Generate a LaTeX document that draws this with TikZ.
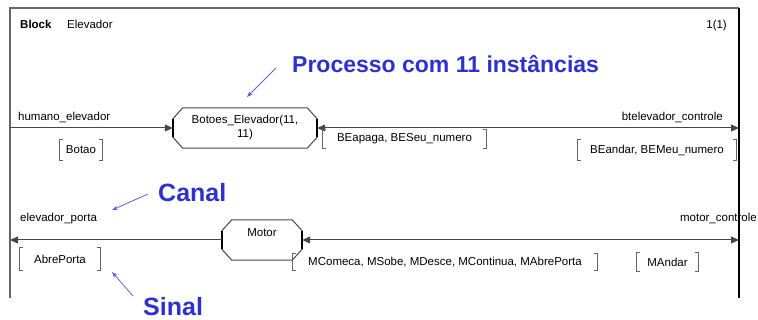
\documentclass[tikz,border=0pt]{standalone}
\usepackage{fontspec}
\setmainfont{Liberation Sans}
\usetikzlibrary{arrows.meta,calc}
\definecolor{annot}{RGB}{45,50,205}
\definecolor{annotline}{RGB}{95,100,215}
\definecolor{ln}{RGB}{70,70,70}
\definecolor{brkc}{RGB}{100,100,100}
\newcommand\sdlbox[3]{%
  \draw[boxline] ($(#1.north west)+(#2,0)$) -- ($(#1.north east)+(-#2,0)$) -- ($(#1.north east)+(0,#3)$) -- ($(#1.south east)+(0,-#3)$) -- ($(#1.south east)+(-#2,0)$) -- ($(#1.south west)+(#2,0)$) -- ($(#1.south west)+(0,-#3)$) -- ($(#1.north west)+(0,#3)$) -- cycle;
  \draw[boxedge] ($(#1.north west)+(0,#3)$) -- ($(#1.south west)+(0,-#3)$);
  \draw[boxedge] ($(#1.north east)+(0,#3)$) -- ($(#1.south east)+(0,-#3)$);
}
\newcommand\siglist[6]{%
  \node[sig, minimum width=#4pt, minimum height=#5pt] (#1) at (#2,#3) {#6};
  \draw[brk] ($(#1.north west)+(3.5,0)$) -| (#1.south west) -- ++(3.5,0);
  \draw[brk] ($(#1.north east)+(-3.5,0)$) -| (#1.south east) -- ++(-3.5,0);
}
\begin{document}
\begin{tikzpicture}[x=1pt,y=-1pt,
  every node/.style={font=\fontsize{11.5}{14}\selectfont, inner sep=0pt, text=black},
  annottext/.style={font=\fontsize{23}{26}\selectfont\bfseries, text=annot},
  annotbig/.style={font=\fontsize{25}{28}\selectfont\bfseries, text=annot},
  annotarrow/.style={draw=annotline, line width=0.8pt, -{Stealth[length=6pt,width=4.5pt]}},
  procbox/.style={minimum width=#1, minimum height=40pt, align=center},
  boxline/.style={draw=ln, line width=1pt, line join=round},
  boxedge/.style={draw=black, line width=1.8pt},
  sig/.style={inner sep=0pt},
  brk/.style={draw=brkc, line width=0.9pt},
  chan/.style={draw=ln, line width=1pt},
  frame/.style={draw=gray!80!black, line width=1.2pt},
  frameR/.style={draw=black, line width=1.8pt},
  >={Triangle[length=8pt,width=7pt]}
]
\useasboundingbox (0,0) rectangle (758,320);
\fill[white] (0,0) rectangle (758,320);

% frame
\draw[frame] (10,298) -- (10,8) -- (739,8);
\draw[frameR] (739,8) -- (739,298);

% title
\node[anchor=base west, font=\fontsize{11.5}{14}\selectfont\bfseries] (blk) at (20,29) {Block};
\node[anchor=base west] (blkname) at (67,29) {Elevador};
\node[anchor=base east] (page) at (727,29) {1(1)};

% processes
\node[procbox=144pt] (botoes) at (245,128) {Botoes\_Elevador(11,\\11)};
\sdlbox{botoes}{10}{11}
\node[procbox=80pt] (motor) at (262,240) {Motor\\\mbox{}};
\sdlbox{motor}{10}{11}

% frame points
\coordinate (fL1) at (10,128);
\coordinate (fR1) at (739,128);
\coordinate (fL2) at (10,240);
\coordinate (fR2) at (739,240);

% channels
\draw[chan, ->] (fL1) -- (botoes.west);
\draw[chan, <->] (botoes.east) -- (fR1);
\draw[chan, ->] (motor.west) -- (fL2);
\draw[chan, <->] (motor.east) -- (fR2);

% channel names
\node[anchor=base west] (lhum) at (18,121) {humano\_elevador};
\node[anchor=base east] (lbt) at (723,121) {btelevador\_controle};
\node[anchor=base west] (lelp) at (20,222) {elevador\_porta};
\node[anchor=base east] (lmc) at (757,222) {motor\_controle};

% signal lists
\siglist{sBotao}{81}{150}{43}{20}{Botao}
\siglist{sBEapaga}{404.5}{139}{163}{18}{BEapaga, BESeu\_numero}
\siglist{sBEandar}{657}{150}{159}{20}{BEandar, BEMeu\_numero}
\siglist{sAbre}{60}{259}{80}{22}{AbrePorta}
\siglist{sMCom}{445}{262}{304}{16}{MComeca, MSobe, MDesce, MContinua, MAbrePorta}
\siglist{sMAndar}{667.5}{262}{61}{19}{MAndar}

% annotations
\node[annottext, anchor=base west] (proc) at (292,73) {Processo com 11 instâncias};
\node[annotbig, anchor=base west] (canal) at (158,202) {Canal};
\node[annotbig, anchor=base west] (sinal) at (143,316) {Sinal};
\coordinate (procTail) at (276,68);
\coordinate (procTip) at (247,97);
\coordinate (canalTail) at (148,194);
\coordinate (canalTip) at (112,210);
\coordinate (sinalTail) at (133,296);
\coordinate (sinalTip) at (112,272);
\draw[annotarrow] (procTail) -- (procTip);
\draw[annotarrow] (canalTail) -- (canalTip);
\draw[annotarrow] (sinalTail) -- (sinalTip);
\end{tikzpicture}
\end{document}
